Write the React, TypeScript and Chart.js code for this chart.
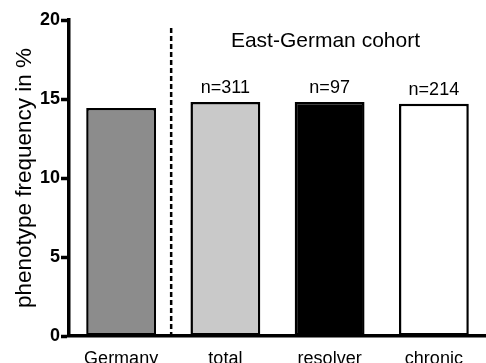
import React, { useEffect, useRef } from "react";
import { Chart, registerables } from "chart.js";

Chart.register(...registerables);

const categories = ["Germany", "total", "resolver", "chronic"];
const frequencies = [14.43, 14.81, 14.81, 14.7];
const sampleSizes = ["", "n=311", "n=97", "n=214"];
const barColors = ["#8c8c8c", "#c9c9c9", "#000000", "#ffffff"];
const yAxisTitle = "phenotype frequency in %";
const groupTitle = "East-German cohort";
const yMin = 0;
const yMax = 20;
const yStep = 5;

const FONT = "'Liberation Sans', Arial, Helvetica, sans-serif";

const overlayPlugin = {
  id: "overlay",
  afterDraw(chart: any) {
    const ctx = chart.ctx;
    const x = chart.scales.x;
    const y = chart.scales.y;
    const area = chart.chartArea;
    ctx.save();
    // dashed separator
    const sepX = x.getPixelForValue(0.48);
    ctx.strokeStyle = "#000";
    ctx.lineWidth = 2.5;
    ctx.setLineDash([5, 3]);
    ctx.beginPath();
    ctx.moveTo(sepX, 28);
    ctx.lineTo(sepX, area.bottom);
    ctx.stroke();
    ctx.setLineDash([]);
    // group title
    ctx.fillStyle = "#000";
    ctx.font = `21px ${FONT}`;
    ctx.textAlign = "center";
    ctx.textBaseline = "alphabetic";
    ctx.fillText(groupTitle, x.getPixelForValue(1.96), 46.5);
    // sample sizes
    ctx.font = `18px ${FONT}`;
    sampleSizes.forEach((s, i) => {
      if (!s) return;
      const px = x.getPixelForValue(i);
      const py = y.getPixelForValue(frequencies[i]);
      ctx.fillText(s, px, py - 9);
    });
    ctx.restore();
  },
};

export default function App() {
  const ref = useRef<HTMLCanvasElement | null>(null);
  useEffect(() => {
    document.body.style.margin = "0";
    const canvas = ref.current!;
    const chart = new Chart(canvas, {
      type: "bar",
      data: {
        labels: categories,
        datasets: [
          {
            data: frequencies,
            backgroundColor: barColors,
            borderColor: "#000",
            borderWidth: 2.5,
            borderSkipped: false,
            barPercentage: 0.67,
            categoryPercentage: 1,
          },
        ],
      },
      options: {
        responsive: false,
        animation: false,
        devicePixelRatio: 1,
        layout: { padding: { top: 20, right: 0, left: 0, bottom: 0 } },
        plugins: {
          legend: { display: false },
          tooltip: { enabled: false },
        },
        scales: {
          x: {
            grid: { display: false, drawTicks: false },
            border: { display: true, color: "#000", width: 3.5 },
            ticks: {
              color: "#000",
              font: { family: FONT, size: 18 },
              padding: 12,
              maxRotation: 0,
              autoSkip: false,
            },
            afterFit(scale: any) {
              scale.height = 27;
            },
          },
          y: {
            min: yMin,
            max: yMax,
            grid: {
              drawOnChartArea: false,
              drawTicks: true,
              tickLength: 8,
              tickWidth: 3.5,
              tickColor: "#000",
            },
            border: { display: true, color: "#000", width: 3.5 },
            ticks: {
              stepSize: yStep,
              color: "#000",
              font: { family: FONT, size: 18, weight: "bold" },
              padding: 1,
            },
            title: {
              display: true,
              text: yAxisTitle,
              color: "#000",
              font: { family: FONT, size: 22.5 },
              padding: { top: 11, bottom: 0 },
            },
            afterFit(scale: any) {
              scale.width = 69;
            },
          },
        },
      },
      plugins: [overlayPlugin],
    });
    return () => chart.destroy();
  }, []);
  return <canvas ref={ref} width={486} height={363} style={{ display: "block" }} />;
}
